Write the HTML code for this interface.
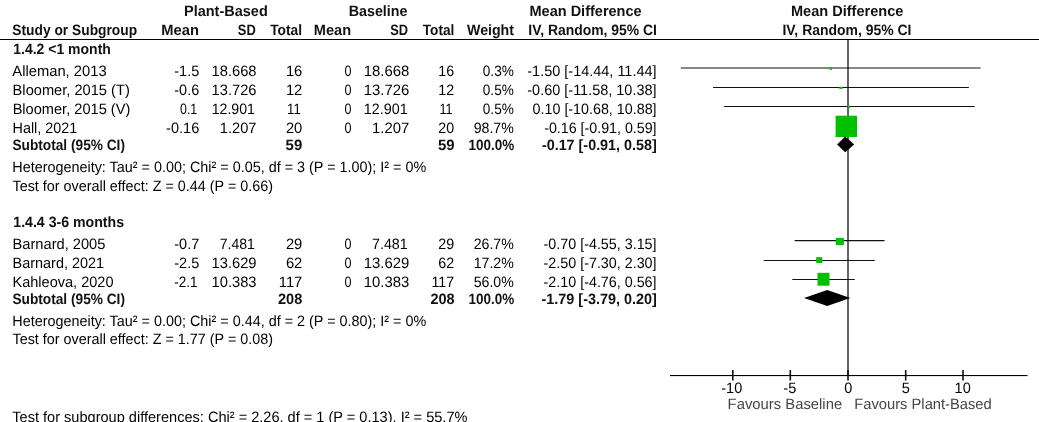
<!DOCTYPE html>
<html><head><meta charset="utf-8"><style>
html,body{margin:0;padding:0;background:#fff;width:1039px;height:422px;overflow:hidden}
svg{display:block;text-rendering:geometricPrecision;will-change:transform}
text{font-family:"Liberation Sans",sans-serif;font-size:15px;fill:#000}
text.b{font-weight:bold;fill:#111}
text.f{fill:#444}
</style></head><body>
<svg width="1039" height="422" viewBox="0 0 1039 422">
<rect x="0" y="39" width="1039" height="1" fill="#000"/>
<rect x="847.1" y="40" width="1.8" height="335" fill="#555"/>
<line x1="680.8" x2="980.6" y1="68.0" y2="68.0" stroke="#111" stroke-width="1.2"/>
<line x1="713" x2="968.9" y1="87.5" y2="87.5" stroke="#111" stroke-width="1.2"/>
<line x1="724.1" x2="974.7" y1="106.5" y2="106.5" stroke="#111" stroke-width="1.2"/>
<line x1="794.7" x2="884.5" y1="240.7" y2="240.7" stroke="#111" stroke-width="1.2"/>
<line x1="763.7" x2="874.8" y1="260.5" y2="260.5" stroke="#111" stroke-width="1.2"/>
<line x1="792.3" x2="854.7" y1="279.5" y2="279.5" stroke="#111" stroke-width="1.2"/>
<rect x="829.6" y="67.4" width="2.4" height="2.4" fill="#00c000"/>
<rect x="839.3" y="86.8" width="3.4" height="2.1" fill="#00c000"/>
<rect x="847.6" y="105.8" width="2.4" height="2.4" fill="#00c000"/>
<rect x="835.6" y="115.7" width="21.4" height="21.3" fill="#00c000"/>
<rect x="835.8" y="237.9" width="8.1" height="7.2" fill="#00c000"/>
<rect x="816.2" y="257.1" width="6.1" height="5.9" fill="#00c000"/>
<rect x="817.5" y="272.8" width="12.0" height="12.9" fill="#00c000"/>
<polygon points="837.1,144.4 845.2,136.6 854.2,144.4 845.2,152.2" fill="#000"/>
<polygon points="804,298 827.2,289.9 850.3,298 827.2,306" fill="#000"/>
<rect x="670" y="375" width="357.5" height="1.1" fill="#000"/>
<rect x="732.0" y="370" width="1.6" height="10.5" fill="#111"/>
<rect x="789.5" y="370" width="1.6" height="10.5" fill="#111"/>
<rect x="847.2" y="370" width="1.6" height="10.5" fill="#111"/>
<rect x="904.9000000000001" y="370" width="1.6" height="10.5" fill="#111"/>
<rect x="962.2" y="370" width="1.6" height="10.5" fill="#111"/>
<text class="b" x="184.03" y="16.0" textLength="83.72" lengthAdjust="spacingAndGlyphs">Plant-Based</text>
<text class="b" x="348.75" y="16.0" textLength="58.68" lengthAdjust="spacingAndGlyphs">Baseline</text>
<text class="b" x="529.53" y="16.0" textLength="112.1" lengthAdjust="spacingAndGlyphs">Mean Difference</text>
<text class="b" x="790.93" y="16.0" textLength="112.4" lengthAdjust="spacingAndGlyphs">Mean Difference</text>
<text class="b" x="12.3" y="34.8" textLength="124.85" lengthAdjust="spacingAndGlyphs">Study or Subgroup</text>
<text class="b" x="161.32" y="34.8" textLength="37.54" lengthAdjust="spacingAndGlyphs">Mean</text>
<text class="b" x="237.8" y="34.8" textLength="17.96" lengthAdjust="spacingAndGlyphs">SD</text>
<text class="b" x="270.2" y="34.8" textLength="31.85" lengthAdjust="spacingAndGlyphs">Total</text>
<text class="b" x="313.73" y="34.8" textLength="37.33" lengthAdjust="spacingAndGlyphs">Mean</text>
<text class="b" x="390.2" y="34.8" textLength="17.86" lengthAdjust="spacingAndGlyphs">SD</text>
<text class="b" x="422.8" y="34.8" textLength="31.55" lengthAdjust="spacingAndGlyphs">Total</text>
<text class="b" x="467.0" y="34.8" textLength="47.0" lengthAdjust="spacingAndGlyphs">Weight</text>
<text class="b" x="528.27" y="34.8" textLength="128.68" lengthAdjust="spacingAndGlyphs">IV, Random, 95% CI</text>
<text class="b" x="782.47" y="34.8" textLength="128.99" lengthAdjust="spacingAndGlyphs">IV, Random, 95% CI</text>
<text class="b" x="13.3" y="54.3" textLength="97.55" lengthAdjust="spacingAndGlyphs">1.4.2 &lt;1 month</text>
<text class="r" x="12.3" y="75.5" textLength="94.34" lengthAdjust="spacingAndGlyphs">Alleman, 2013</text>
<text class="r" x="174.3" y="75.5" textLength="24.93" lengthAdjust="spacingAndGlyphs">-1.5</text>
<text class="r" x="211.62" y="75.5" textLength="44.91" lengthAdjust="spacingAndGlyphs">18.668</text>
<text class="r" x="285.92" y="75.5" textLength="16.42" lengthAdjust="spacingAndGlyphs">16</text>
<text class="r" x="344.5" y="75.5" textLength="6.99" lengthAdjust="spacingAndGlyphs">0</text>
<text class="r" x="363.81" y="75.5" textLength="45.53" lengthAdjust="spacingAndGlyphs">18.668</text>
<text class="r" x="438.35" y="75.5" textLength="15.88" lengthAdjust="spacingAndGlyphs">16</text>
<text class="r" x="482.8" y="75.5" textLength="31.01" lengthAdjust="spacingAndGlyphs">0.3%</text>
<text class="r" x="527.3" y="75.5" textLength="129.26" lengthAdjust="spacingAndGlyphs">-1.50 [-14.44, 11.44]</text>
<text class="r" x="12.62" y="94.7" textLength="117.17" lengthAdjust="spacingAndGlyphs">Bloomer, 2015 (T)</text>
<text class="r" x="174.3" y="94.7" textLength="24.93" lengthAdjust="spacingAndGlyphs">-0.6</text>
<text class="r" x="211.62" y="94.7" textLength="44.91" lengthAdjust="spacingAndGlyphs">13.726</text>
<text class="r" x="285.92" y="94.7" textLength="16.42" lengthAdjust="spacingAndGlyphs">12</text>
<text class="r" x="344.5" y="94.7" textLength="6.99" lengthAdjust="spacingAndGlyphs">0</text>
<text class="r" x="363.81" y="94.7" textLength="45.53" lengthAdjust="spacingAndGlyphs">13.726</text>
<text class="r" x="438.35" y="94.7" textLength="15.88" lengthAdjust="spacingAndGlyphs">12</text>
<text class="r" x="482.8" y="94.7" textLength="31.01" lengthAdjust="spacingAndGlyphs">0.5%</text>
<text class="r" x="527.3" y="94.7" textLength="129.26" lengthAdjust="spacingAndGlyphs">-0.60 [-11.58, 10.38]</text>
<text class="r" x="12.63" y="114.0" textLength="117.67" lengthAdjust="spacingAndGlyphs">Bloomer, 2015 (V)</text>
<text class="r" x="180.0" y="114.0" textLength="17.28" lengthAdjust="spacingAndGlyphs">0.1</text>
<text class="r" x="211.66" y="114.0" textLength="43.27" lengthAdjust="spacingAndGlyphs">12.901</text>
<text class="r" x="287.12" y="114.0" textLength="13.57" lengthAdjust="spacingAndGlyphs">11</text>
<text class="r" x="344.5" y="114.0" textLength="6.99" lengthAdjust="spacingAndGlyphs">0</text>
<text class="r" x="363.84" y="114.0" textLength="43.88" lengthAdjust="spacingAndGlyphs">12.901</text>
<text class="r" x="439.52" y="114.0" textLength="13.07" lengthAdjust="spacingAndGlyphs">11</text>
<text class="r" x="482.8" y="114.0" textLength="31.01" lengthAdjust="spacingAndGlyphs">0.5%</text>
<text class="r" x="532.6" y="114.0" textLength="123.96" lengthAdjust="spacingAndGlyphs">0.10 [-10.68, 10.88]</text>
<text class="r" x="12.54" y="133.3" textLength="64.69" lengthAdjust="spacingAndGlyphs">Hall, 2021</text>
<text class="r" x="166.1" y="133.3" textLength="33.13" lengthAdjust="spacingAndGlyphs">-0.16</text>
<text class="r" x="219.79" y="133.3" textLength="36.75" lengthAdjust="spacingAndGlyphs">1.207</text>
<text class="r" x="285.92" y="133.3" textLength="16.42" lengthAdjust="spacingAndGlyphs">20</text>
<text class="r" x="344.5" y="133.3" textLength="6.99" lengthAdjust="spacingAndGlyphs">0</text>
<text class="r" x="372.09" y="133.3" textLength="37.25" lengthAdjust="spacingAndGlyphs">1.207</text>
<text class="r" x="438.35" y="133.3" textLength="15.88" lengthAdjust="spacingAndGlyphs">20</text>
<text class="r" x="473.7" y="133.3" textLength="40.12" lengthAdjust="spacingAndGlyphs">98.7%</text>
<text class="r" x="544.2" y="133.3" textLength="112.36" lengthAdjust="spacingAndGlyphs">-0.16 [-0.91, 0.59]</text>
<text class="b" x="12.4" y="150.0" textLength="112.6" lengthAdjust="spacingAndGlyphs">Subtotal (95% CI)</text>
<text class="b" x="285.6" y="150.0" textLength="16.64" lengthAdjust="spacingAndGlyphs">59</text>
<text class="b" x="438.0" y="150.0" textLength="16.64" lengthAdjust="spacingAndGlyphs">59</text>
<text class="b" x="468.6" y="150.0" textLength="45.7" lengthAdjust="spacingAndGlyphs">100.0%</text>
<text class="b" x="541.9" y="150.0" textLength="114.9" lengthAdjust="spacingAndGlyphs">-0.17 [-0.91, 0.58]</text>
<text class="r" x="12.34" y="172.0" textLength="413.98" lengthAdjust="spacingAndGlyphs">Heterogeneity: Tau² = 0.00; Chi² = 0.05, df = 3 (P = 1.00); I² = 0%</text>
<text class="r" x="12.5" y="190.7" textLength="260.5" lengthAdjust="spacingAndGlyphs">Test for overall effect: Z = 0.44 (P = 0.66)</text>
<text class="b" x="13.3" y="227.0" textLength="110.72" lengthAdjust="spacingAndGlyphs">1.4.4 3-6 months</text>
<text class="r" x="12.52" y="248.5" textLength="92.91" lengthAdjust="spacingAndGlyphs">Barnard, 2005</text>
<text class="r" x="174.3" y="248.5" textLength="24.93" lengthAdjust="spacingAndGlyphs">-0.7</text>
<text class="r" x="219.79" y="248.5" textLength="35.13" lengthAdjust="spacingAndGlyphs">7.481</text>
<text class="r" x="285.92" y="248.5" textLength="16.42" lengthAdjust="spacingAndGlyphs">29</text>
<text class="r" x="344.5" y="248.5" textLength="6.99" lengthAdjust="spacingAndGlyphs">0</text>
<text class="r" x="372.09" y="248.5" textLength="35.64" lengthAdjust="spacingAndGlyphs">7.481</text>
<text class="r" x="438.35" y="248.5" textLength="15.88" lengthAdjust="spacingAndGlyphs">29</text>
<text class="r" x="473.7" y="248.5" textLength="40.12" lengthAdjust="spacingAndGlyphs">26.7%</text>
<text class="r" x="543.6" y="248.5" textLength="112.96" lengthAdjust="spacingAndGlyphs">-0.70 [-4.55, 3.15]</text>
<text class="r" x="12.54" y="267.5" textLength="91.59" lengthAdjust="spacingAndGlyphs">Barnard, 2021</text>
<text class="r" x="174.3" y="267.5" textLength="24.93" lengthAdjust="spacingAndGlyphs">-2.5</text>
<text class="r" x="211.62" y="267.5" textLength="44.91" lengthAdjust="spacingAndGlyphs">13.629</text>
<text class="r" x="285.92" y="267.5" textLength="16.42" lengthAdjust="spacingAndGlyphs">62</text>
<text class="r" x="344.5" y="267.5" textLength="6.99" lengthAdjust="spacingAndGlyphs">0</text>
<text class="r" x="363.81" y="267.5" textLength="45.53" lengthAdjust="spacingAndGlyphs">13.629</text>
<text class="r" x="438.35" y="267.5" textLength="15.88" lengthAdjust="spacingAndGlyphs">62</text>
<text class="r" x="473.7" y="267.5" textLength="40.12" lengthAdjust="spacingAndGlyphs">17.2%</text>
<text class="r" x="543.6" y="267.5" textLength="112.96" lengthAdjust="spacingAndGlyphs">-2.50 [-7.30, 2.30]</text>
<text class="r" x="12.53" y="287.1" textLength="101.0" lengthAdjust="spacingAndGlyphs">Kahleova, 2020</text>
<text class="r" x="174.3" y="287.1" textLength="23.31" lengthAdjust="spacingAndGlyphs">-2.1</text>
<text class="r" x="211.62" y="287.1" textLength="44.91" lengthAdjust="spacingAndGlyphs">10.383</text>
<text class="r" x="278.8" y="287.1" textLength="23.54" lengthAdjust="spacingAndGlyphs">117</text>
<text class="r" x="344.5" y="287.1" textLength="6.99" lengthAdjust="spacingAndGlyphs">0</text>
<text class="r" x="363.81" y="287.1" textLength="45.53" lengthAdjust="spacingAndGlyphs">10.383</text>
<text class="r" x="431.47" y="287.1" textLength="22.76" lengthAdjust="spacingAndGlyphs">117</text>
<text class="r" x="473.7" y="287.1" textLength="40.12" lengthAdjust="spacingAndGlyphs">56.0%</text>
<text class="r" x="543.6" y="287.1" textLength="112.96" lengthAdjust="spacingAndGlyphs">-2.10 [-4.76, 0.56]</text>
<text class="b" x="12.4" y="303.8" textLength="112.6" lengthAdjust="spacingAndGlyphs">Subtotal (95% CI)</text>
<text class="b" x="278.0" y="303.8" textLength="24.23" lengthAdjust="spacingAndGlyphs">208</text>
<text class="b" x="430.4" y="303.8" textLength="24.23" lengthAdjust="spacingAndGlyphs">208</text>
<text class="b" x="468.6" y="303.8" textLength="45.7" lengthAdjust="spacingAndGlyphs">100.0%</text>
<text class="b" x="541.5" y="303.8" textLength="115.3" lengthAdjust="spacingAndGlyphs">-1.79 [-3.79, 0.20]</text>
<text class="r" x="12.34" y="325.6" textLength="413.98" lengthAdjust="spacingAndGlyphs">Heterogeneity: Tau² = 0.00; Chi² = 0.44, df = 2 (P = 0.80); I² = 0%</text>
<text class="r" x="12.5" y="344.3" textLength="260.5" lengthAdjust="spacingAndGlyphs">Test for overall effect: Z = 1.77 (P = 0.08)</text>
<text class="r" x="12.3" y="421.5" textLength="455.13" lengthAdjust="spacingAndGlyphs">Test for subgroup differences: Chi² = 2.26, df = 1 (P = 0.13), I² = 55.7%</text>
<text class="r" x="721.3" y="392.6" textLength="20.93" lengthAdjust="spacingAndGlyphs">-10</text>
<text class="r" x="783.32" y="392.6" textLength="12.9" lengthAdjust="spacingAndGlyphs">-5</text>
<text class="r" x="844.13" y="392.6" textLength="8.07" lengthAdjust="spacingAndGlyphs">0</text>
<text class="r" x="901.83" y="392.6" textLength="8.07" lengthAdjust="spacingAndGlyphs">5</text>
<text class="r" x="954.62" y="392.6" textLength="16.13" lengthAdjust="spacingAndGlyphs">10</text>
<text class="f" x="727.61" y="409.4" textLength="114.53" lengthAdjust="spacingAndGlyphs">Favours Baseline</text>
<text class="f" x="854.32" y="409.4" textLength="137.42" lengthAdjust="spacingAndGlyphs">Favours Plant-Based</text>
</svg>
</body></html>
